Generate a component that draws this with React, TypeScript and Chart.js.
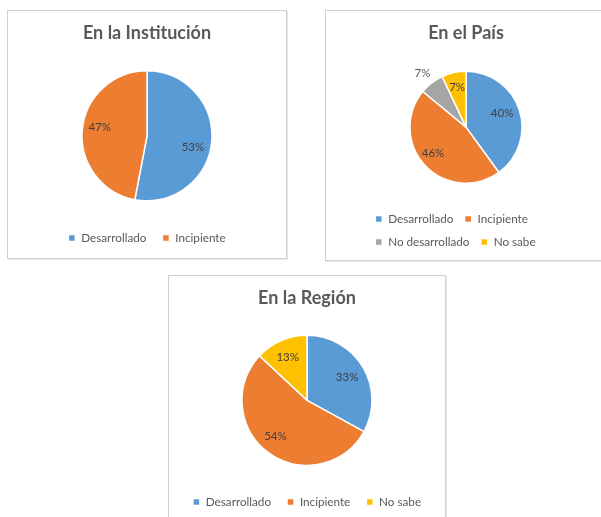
import React, { useEffect, useRef } from 'react';
import { Chart, registerables } from 'chart.js';

Chart.register(...registerables);

// ---- Data ----
const instTitle = 'En la Institución';
const instLabels = ['Desarrollado', 'Incipiente'];
const instValues = [53, 47];

const paisTitle = 'En el País';
const paisLabels = ['Desarrollado', 'Incipiente', 'No desarrollado', 'No sabe'];
const paisValues = [40, 46, 7, 7];

const regionTitle = 'En la Región';
const regionLabels = ['Desarrollado', 'Incipiente', 'No sabe'];
const regionValues = [33, 54, 13];

// ---- Styles ----
const COLOR_MAP: Record<string, string> = {
  'Desarrollado': '#5B9BD5',
  'Incipiente': '#ED7D31',
  'No desarrollado': '#A5A5A5',
  'No sabe': '#FFC000',
};
const FONT = 'Lato, "Open Sans", sans-serif';

const pieLabelPlugin = {
  id: 'pieLabels',
  afterDatasetsDraw(chart: any, _args: any, opts: any) {
    const { ctx } = chart;
    const meta = chart.getDatasetMeta(0);
    const ds = chart.data.datasets[0];
    ctx.save();
    ctx.font = `11.5px ${FONT}`;
    ctx.textAlign = 'center';
    ctx.textBaseline = 'middle';
    meta.data.forEach((arc: any, i: number) => {
      const p = arc.getProps(['x', 'y', 'startAngle', 'endAngle', 'outerRadius'], true);
      const shift = ((opts.shift && opts.shift[i]) || 0) * Math.PI / 180;
      const mid = (p.startAngle + p.endAngle) / 2 + shift;
      const frac = (opts.radius && opts.radius[i]) || 0.72;
      const r = p.outerRadius * frac;
      ctx.fillStyle = (opts.colors && opts.colors[i]) || '#404040';
      ctx.fillText(ds.data[i] + '%', p.x + Math.cos(mid) * r, p.y + Math.sin(mid) * r);
    });
    ctx.restore();
  },
};

type PieProps = {
  title: string;
  labels: string[];
  values: number[];
  width: number;
  height: number;
  radius: number;
  titlePadBottom: number;
  legendPad: number;
  legendAlign: 'start' | 'center' | 'end';
  layoutPad: { left: number; right: number; top: number; bottom: number };
  labelRadius: number[];
  labelShift: number[];
  labelColors?: string[];
};

function PieChart(props: PieProps) {
  const ref = useRef<HTMLCanvasElement | null>(null);
  useEffect(() => {
    if (!ref.current) return;
    const chart = new Chart(ref.current, {
      type: 'pie',
      data: {
        labels: props.labels,
        datasets: [
          {
            data: props.values,
            backgroundColor: props.labels.map((l) => COLOR_MAP[l]),
            borderColor: '#FFFFFF',
            borderWidth: 1.5,
            radius: props.radius,
          } as any,
        ],
      },
      options: {
        responsive: false,
        animation: false,
        devicePixelRatio: 1,
        layout: { padding: props.layoutPad },
        plugins: {
          title: {
            display: true,
            text: props.title,
            color: '#595959',
            font: { family: FONT, size: 18, weight: 'bold' },
            padding: { top: 11.2, bottom: props.titlePadBottom },
          },
          legend: {
            display: true,
            position: 'bottom',
            align: props.legendAlign,
            labels: {
              color: '#595959',
              font: { family: FONT, size: 11.7 },
              boxWidth: 7,
              boxHeight: 7,
              padding: props.legendPad,
            },
          },
          tooltip: { enabled: false },
          pieLabels: {
            radius: props.labelRadius,
            shift: props.labelShift,
            colors: props.labelColors,
          },
        } as any,
      },
      plugins: [pieLabelPlugin as any],
    });
    return () => chart.destroy();
  }, []);
  return (
    <canvas
      ref={ref}
      width={props.width}
      height={props.height}
      style={{ display: 'block', width: props.width, height: props.height }}
    />
  );
}

const panelStyle = (left: number, top: number): React.CSSProperties => ({
  position: 'absolute',
  left,
  top,
  border: '1px solid #CFCFCF',
  boxShadow: '1px 1px 0 #E6E6E6',
  background: '#FFFFFF',
});

export default function App() {
  useEffect(() => {
    document.body.style.margin = '0';
  }, []);
  return (
    <div
      style={{
        position: 'relative',
        width: 601,
        height: 517,
        overflow: 'hidden',
        background: '#FFFFFF',
      }}
    >
      <div style={panelStyle(7, 10)}>
        <PieChart
          title={instTitle}
          labels={instLabels}
          values={instValues}
          width={278}
          height={247}
          radius={65}
          titlePadBottom={11.7}
          legendPad={16}
          legendAlign="center"
          layoutPad={{ left: 0, right: 0, top: 0, bottom: 4.15 }}
          labelRadius={[0.73, 0.74]}
          labelShift={[9, 5]}
        />
      </div>
      <div style={panelStyle(325, 10)}>
        <PieChart
          title={paisTitle}
          labels={paisLabels}
          values={paisValues}
          width={280}
          height={249}
          radius={56}
          titlePadBottom={8.7}
          legendPad={11.3}
          legendAlign="start"
          layoutPad={{ left: 38, right: 38, top: 0, bottom: 2.15 }}
          labelRadius={[0.69, 0.75, 1.24, 0.73]}
          labelShift={[-3, 5, -1, 0]}
          labelColors={['#404040', '#404040', '#595959', '#404040']}
        />
      </div>
      <div style={panelStyle(168, 275)}>
        <PieChart
          title={regionTitle}
          labels={regionLabels}
          values={regionValues}
          width={276}
          height={247}
          radius={65}
          titlePadBottom={11.7}
          legendPad={16}
          legendAlign="center"
          layoutPad={{ left: 0, right: 0, top: 0, bottom: 5.15 }}
          labelRadius={[0.71, 0.74, 0.72]}
          labelShift={[1, 5, -1]}
        />
      </div>
    </div>
  );
}
